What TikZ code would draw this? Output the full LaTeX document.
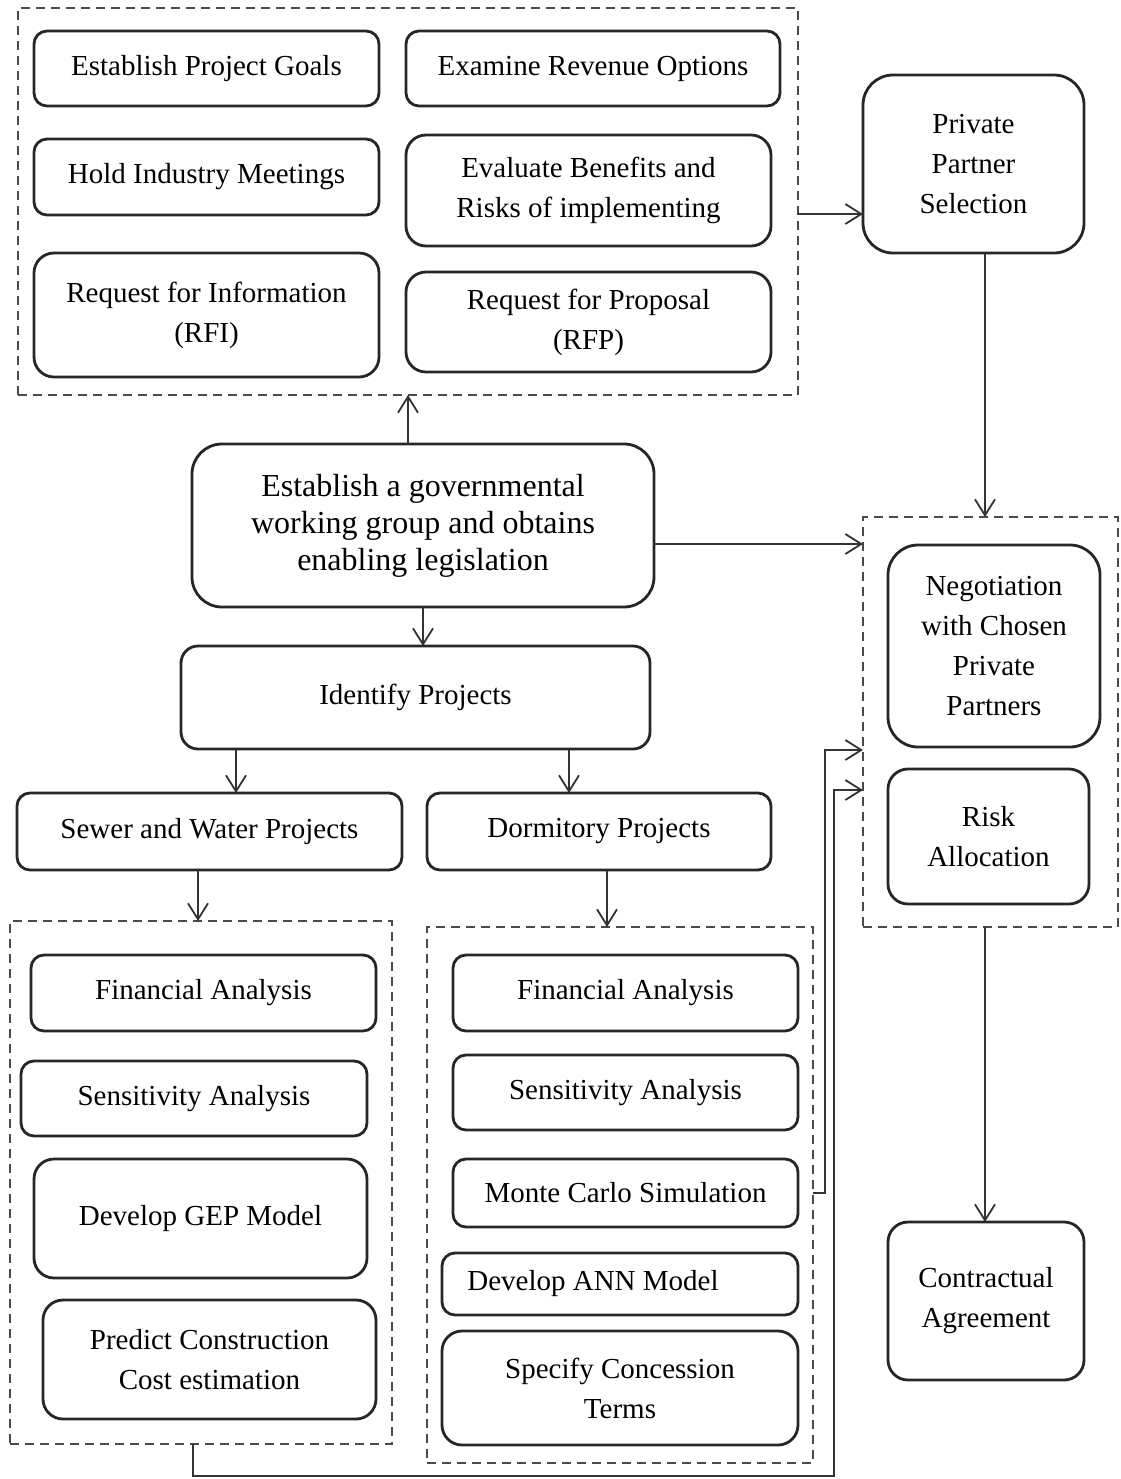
\documentclass[tikz,border=0pt]{standalone}
\usepackage{fontspec}
\setmainfont{Liberation Serif}
\usetikzlibrary{arrows.meta}
\definecolor{boxline}{HTML}{262626}
\definecolor{grpline}{HTML}{4A4A4A}
\definecolor{conline}{HTML}{333333}
\tikzset{
  bx/.style={draw=boxline, line width=1.4pt, rounded corners=6.5pt,
    align=center, inner sep=0pt, outer sep=0pt,
    font=\fontsize{14.5pt}{20pt}\selectfont},
  bigr/.style={rounded corners=15pt},
  midr/.style={rounded corners=10pt},
  grp/.style={draw=grpline, line width=1.1pt, dash pattern=on 4.5pt off 3pt,
    inner sep=0pt, outer sep=0pt},
  sz/.style 2 args={minimum width=#1, minimum height=#2},
  arr/.style={draw=conline, line width=0.9pt,
    -{Straight Barb[length=8pt,width=10pt,line width=0.9pt]}},
  ln/.style={draw=conline, line width=0.9pt}
}
\begin{document}
\begin{tikzpicture}[x=0.5pt,y=-0.5pt]
\useasboundingbox (0,0) rectangle (1120,1479);

% ---- preparation group (top) ----
\node[grp, sz={390pt}{193.5pt}] (topgrp) at (408,201.5) {};
\node[bx, sz={172.5pt}{37.5pt}] (goals) at (206.5,68.5) {Establish Project Goals};
\node[bx, sz={187pt}{37.5pt}] (revenue) at (593,68.5) {Examine Revenue Options};
\node[bx, sz={172.5pt}{38pt}] (meetings) at (206.5,177) {Hold Industry Meetings};
\node[bx, midr, sz={182.5pt}{55.5pt}] (evaluate) at (588.5,190.5) {Evaluate Benefits and\\Risks of implementing};
\node[bx, midr, sz={172.5pt}{62pt}] (rfi) at (206.5,315) {Request for Information\\(RFI)};
\node[bx, midr, sz={182.5pt}{50pt}] (rfp) at (588.5,322) {Request for Proposal\\(RFP)};

\node[bx, bigr, sz={110.5pt}{89pt}] (pps) at (973.5,164) {Private\\Partner\\Selection};

% ---- main chain ----
\node[bx, bigr, sz={231pt}{81.5pt}, font=\fontsize{16pt}{18.5pt}\selectfont] (main) at (423,525.5)
  {Establish a governmental\\working group and obtains\\enabling legislation};
\node[bx, rounded corners=8.5pt, sz={234.5pt}{51.5pt}] (identify) at (415.5,697.5) {Identify Projects};
\node[bx, sz={192.5pt}{38.5pt}] (sewer) at (209.5,831.5) {Sewer and Water Projects};
\node[bx, sz={172pt}{38.5pt}] (dorm) at (599,831.5) {Dormitory Projects};

% ---- sewer and water analysis ----
\node[grp, sz={191pt}{261.5pt}] (leftgrp) at (201,1182.5) {};
\node[bx, sz={172.5pt}{38pt}] (lfin) at (203.5,993) {Financial Analysis};
\node[bx, sz={173pt}{37.5pt}] (lsens) at (194,1098.5) {Sensitivity Analysis};
\node[bx, midr, sz={166.5pt}{59.5pt}] (gep) at (200.5,1218.5) {Develop GEP Model};
\node[bx, midr, sz={166.5pt}{59.5pt}] (predict) at (209.5,1359.5) {Predict Construction\\Cost estimation};

% ---- dormitory analysis ----
\node[grp, sz={193pt}{268pt}] (midgrp) at (620,1195) {};
\node[bx, sz={172.5pt}{38pt}] (mfin) at (625.5,993) {Financial Analysis};
\node[bx, sz={172.5pt}{37.5pt}] (msens) at (625.5,1092.5) {Sensitivity Analysis};
\node[bx, sz={172.5pt}{34pt}] (mc) at (625.5,1193) {Monte Carlo Simulation};
\node[bx, sz={178pt}{31pt}] (ann) at (620,1284) {\hspace*{-27pt}Develop ANN Model};
\node[bx, midr, sz={178pt}{57pt}] (spec) at (620,1388) {Specify Concession\\Terms};

% ---- negotiation group ----
\node[grp, sz={127.5pt}{205pt}] (rightgrp) at (990.5,722) {};
\node[bx, bigr, sz={106pt}{101pt}] (neg) at (994,646) {Negotiation\\with Chosen\\Private\\Partners};
\node[bx, midr, sz={100.5pt}{67.5pt}] (risk) at (988.5,836.5) {Risk\\Allocation};

\node[bx, midr, sz={98pt}{79pt}] (contract) at (986,1301) {Contractual\\Agreement};

% ---- connectors ----
\coordinate (colx) at (985,0);
\coordinate (a1) at ([yshift=-25pt]pps.west);
\coordinate (m2) at ([yshift=-9.25pt]main.east);
\coordinate (sx) at (236,0);
\coordinate (dx) at (569,0);
\coordinate (lx) at (198,0);
\coordinate (rx) at (607,0);

\draw[arr] (topgrp.south |- main.north) -- (topgrp.south);
\draw[arr] (topgrp.east |- a1) -- (a1);
\draw[arr] (pps.south -| colx) -- (rightgrp.north -| colx);
\draw[arr] (m2) -- (rightgrp.west |- m2);
\draw[arr] (main.south) -- (main.south |- identify.north);
\draw[arr] (identify.south -| sx) -- (sewer.north -| sx);
\draw[arr] (identify.south -| dx) -- (dorm.north -| dx);
\draw[arr] (sewer.south -| lx) -- (leftgrp.north -| lx);
\draw[arr] (dorm.south -| rx) -- (midgrp.north -| rx);
\draw[arr] (midgrp.east |- mc.east) -| (825,750) -- (rightgrp.west |- 0,750);
\draw[arr] (leftgrp.south -| 193,0) -- (193,1476) -| (834,790) -- (rightgrp.west |- 0,790);
\draw[arr] (rightgrp.south -| colx) -- (contract.north -| colx);
\end{tikzpicture}
\end{document}
